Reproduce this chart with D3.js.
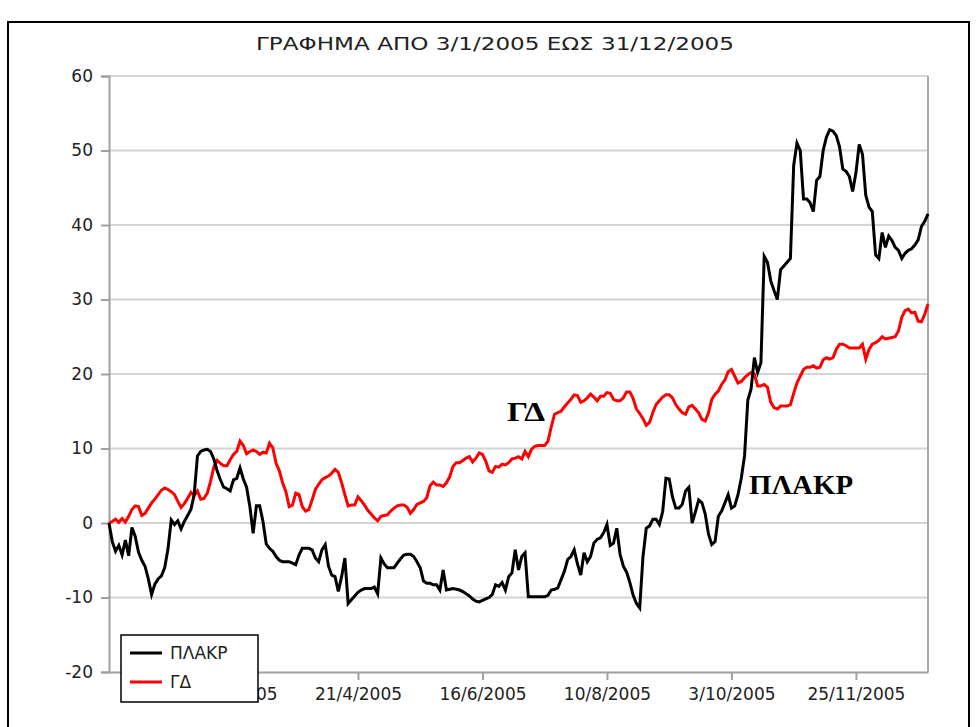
<!DOCTYPE html>
<html>
<head>
<meta charset="utf-8">
<script src="https://cdn.jsdelivr.net/npm/d3@7/dist/d3.min.js"></script>
<style>
  html, body { margin: 0; padding: 0; background: #fff; }
  svg { display: block; }
</style>
</head>
<body>
<script>
// ── data ─────────────────────────────────────────────────────────────────
var chartTitle = 'ΓΡΑΦΗΜΑ ΑΠΟ 3/1/2005 ΕΩΣ 31/12/2005';
var seriesNames = ['ΠΛΑΚΡ', 'ΓΔ'];

// one value per trading day, 3/1/2005 .. 30/12/2005
var plakr = [
   0.0, -2.5, -3.8, -3.0, -4.3, -2.3, -4.4, -0.6, -1.8, -3.9,
  -5.0, -5.8, -7.5, -9.6, -8.2, -7.5, -7.1, -6.0, -3.5,  0.4,
  -0.2,  0.3, -0.8,  0.2,  1.0,  1.8,  3.8,  9.0,  9.6,  9.8,
   9.9,  9.6,  8.6,  7.0,  5.8,  4.8,  4.6,  4.3,  5.8,  6.0,
   7.4,  5.9,  4.8,  2.2, -1.4,  2.3,  2.3,  0.2, -2.8, -3.4,
  -3.8, -4.5, -5.0, -5.2, -5.2, -5.2, -5.4, -5.6, -4.3, -3.4,
  -3.4, -3.4, -3.6, -4.7, -5.2, -3.6, -2.9, -5.8, -7.0, -7.2,
  -9.2, -7.2, -4.7,-10.8,-10.3, -9.8, -9.3, -9.0, -8.8, -8.8,
  -8.8, -8.6, -9.5, -4.7, -5.5, -6.0, -6.0, -6.0, -5.4, -4.8,
  -4.3, -4.2, -4.2, -4.5, -5.2, -6.0, -7.8, -8.1, -8.1, -8.3,
  -8.3, -9.0, -6.3, -9.0, -8.9, -8.8, -8.9, -9.0, -9.2, -9.5,
  -9.8,-10.2,-10.5,-10.6,-10.4,-10.2,-10.0, -9.6, -8.3, -8.5,
  -8.0, -9.0, -7.2, -6.7, -3.6, -6.3, -4.5, -4.0, -9.9, -9.9,
  -9.9, -9.9, -9.9, -9.9, -9.7, -9.0, -8.9, -8.7, -7.6, -6.5,
  -4.9, -4.5, -3.6, -5.5, -7.0, -4.0, -5.2, -4.5, -2.7, -2.2,
  -2.0, -1.3, -0.2, -3.0, -2.7, -0.7, -4.2, -5.8, -6.6, -8.0,
  -9.7,-10.8,-11.4, -4.5, -0.7, -0.4,  0.5,  0.5, -0.2,  1.5,
   6.0,  5.9,  3.5,  2.0,  2.0,  2.5,  4.3,  4.8,  0.0,  1.5,
   3.1,  2.7,  1.2, -1.5, -2.9, -2.5,  0.9,  1.6,  2.7,  3.8,
   2.0,  2.3,  3.8,  6.0,  9.0, 16.5, 18.0, 22.2, 20.2, 21.5,
  35.8, 35.0, 32.5, 31.2, 30.0, 34.0, 34.5, 35.0, 35.5, 48.0,
  51.0, 50.0, 43.5, 43.5, 43.0, 41.8, 46.0, 46.5, 50.0, 51.8,
  52.8, 52.6, 52.0, 50.5, 47.5, 47.2, 46.5, 44.5, 47.0, 50.8,
  49.5, 44.0, 42.4, 41.8, 36.0, 35.5, 39.0, 37.0, 38.5, 37.9,
  37.0, 36.6, 35.5, 36.2, 36.6, 36.8, 37.3, 38.0, 39.8, 40.5,
  41.5
];

var gd = [
   0.0,  0.2,  0.5,  0.1,  0.6,  0.1,  0.9,  1.8,  2.3,  2.2,
   1.0,  1.3,  2.0,  2.7,  3.2,  3.8,  4.4,  4.7,  4.5,  4.2,
   3.8,  2.9,  2.1,  2.6,  3.3,  4.1,  3.7,  4.3,  3.2,  3.3,
   4.0,  5.6,  7.5,  8.4,  8.0,  7.7,  7.7,  8.5,  9.2,  9.6,
  11.0, 10.4,  9.3,  9.6,  9.8,  9.6,  9.2,  9.5,  9.4, 10.7,
  10.1,  8.0,  7.0,  5.4,  4.2,  2.2,  2.4,  4.0,  3.8,  2.2,
   1.6,  1.8,  3.1,  4.5,  5.2,  5.8,  6.1,  6.3,  6.7,  7.2,
   6.8,  5.4,  3.8,  2.3,  2.4,  2.4,  3.5,  3.0,  2.4,  1.7,
   1.2,  0.7,  0.3,  0.9,  1.0,  1.1,  1.6,  2.0,  2.3,  2.4,
   2.4,  2.1,  1.3,  1.8,  2.5,  2.7,  2.9,  3.4,  5.0,  5.5,
   5.1,  5.1,  4.9,  5.4,  6.2,  7.6,  8.1,  8.1,  8.4,  8.7,
   8.9,  8.2,  8.7,  9.4,  9.2,  8.3,  7.0,  6.8,  7.6,  7.5,
   7.9,  7.8,  8.1,  8.6,  8.7,  8.9,  8.6,  9.6,  8.9,  9.9,
  10.3, 10.4, 10.4, 10.4, 11.0, 12.9, 14.6, 14.8, 15.0, 15.6,
  16.1, 16.6, 17.2, 17.1, 16.2, 16.4, 16.8, 17.3, 16.9, 16.4,
  17.0, 17.0, 17.5, 17.4, 16.6, 16.4, 16.4, 16.8, 17.6, 17.6,
  16.7, 15.3, 14.7, 14.0, 13.1, 13.5, 14.8, 15.9, 16.4, 16.9,
  17.2, 17.2, 16.8, 15.9, 15.3, 14.8, 14.6, 15.6, 15.8, 15.3,
  14.8, 13.9, 13.7, 14.8, 16.6, 17.3, 17.7, 18.6, 19.2, 20.3,
  20.6, 19.7, 18.8, 19.0, 19.5, 19.9, 20.2, 20.0, 18.4, 18.4,
  18.6, 18.2, 16.2, 15.5, 15.3, 15.7, 15.7, 15.7, 15.9, 17.4,
  18.8, 19.7, 20.6, 20.9, 20.9, 21.1, 20.8, 20.9, 21.9, 22.2,
  22.0, 22.2, 23.3, 24.0, 24.0, 23.8, 23.5, 23.5, 23.5, 23.5,
  24.0, 22.0, 23.3, 24.0, 24.2, 24.5, 25.0, 24.7, 24.8, 24.9,
  25.0, 25.8, 27.6, 28.5, 28.7, 28.2, 28.3, 27.1, 27.0, 28.0,
  29.4
];

var xTickIndex  = [38, 76, 114, 152, 190, 228];
var xTickLabels = ['25/2/2005', '21/4/2005', '16/6/2005', '10/8/2005', '3/10/2005', '25/11/2005'];
var yTicks      = [-20, -10, 0, 10, 20, 30, 40, 50, 60];

// ── geometry ─────────────────────────────────────────────────────────────
var W = 977, H = 727;
var plot = { left: 109, right: 928, top: 76, bottom: 672 };
var sans = '"DejaVu Sans", Verdana, sans-serif';
var serif = '"Liberation Serif", "Times New Roman", serif';

var x = d3.scaleLinear().domain([0, plakr.length - 1]).range([plot.left, plot.right]);
var y = d3.scaleLinear().domain([-20, 60]).range([plot.bottom, plot.top]);

var svg = d3.select('body').append('svg')
    .attr('width', W).attr('height', H)
    .attr('viewBox', '0 0 ' + W + ' ' + H);

svg.append('rect').attr('width', W).attr('height', H).attr('fill', '#fff');

// outer chart border (bottom edge falls outside the picture)
svg.append('rect')
    .attr('x', 8).attr('y', 22)
    .attr('width', 961).attr('height', 720)
    .attr('fill', 'none').attr('stroke', '#000').attr('stroke-width', 2);

// title
svg.append('text')
    .attr('x', 495).attr('y', 50)
    .attr('text-anchor', 'middle')
    .attr('font-family', sans).attr('font-size', '18px')
    .attr('textLength', 478).attr('lengthAdjust', 'spacingAndGlyphs')
    .attr('fill', '#222')
    .text(chartTitle);

// ── gridlines ────────────────────────────────────────────────────────────
svg.append('g').selectAll('line')
    .data(yTicks.filter(function (d) { return d > -20; }))
    .join('line')
    .attr('x1', plot.left).attr('x2', plot.right)
    .attr('y1', function (d) { return y(d); })
    .attr('y2', function (d) { return y(d); })
    .attr('stroke', '#d4d4d4').attr('stroke-width', 2);

// right edge of plot area
svg.append('line')
    .attr('x1', plot.right).attr('x2', plot.right)
    .attr('y1', plot.top).attr('y2', plot.bottom)
    .attr('stroke', '#a8a8a8').attr('stroke-width', 2);

// ── axes ─────────────────────────────────────────────────────────────────
var yAxis = svg.append('g')
    .attr('transform', 'translate(' + plot.left + ',0)')
    .call(d3.axisLeft(y).tickValues(yTicks)
        .tickFormat(function (d) { return String(d); })   // plain hyphen minus
        .tickSize(8).tickPadding(8));
yAxis.selectAll('path, line').attr('stroke', '#a0a0a0').attr('stroke-width', 2);
yAxis.selectAll('text')
    .attr('font-family', sans).attr('font-size', '17px').attr('fill', '#222');

var xAxis = svg.append('g')
    .attr('transform', 'translate(0,' + plot.bottom + ')')
    .call(d3.axisBottom(x).tickValues(xTickIndex)
        .tickFormat(function (d, i) { return xTickLabels[i]; })
        .tickSize(8).tickPadding(8).tickSizeOuter(0));
xAxis.selectAll('path, line').attr('stroke', '#a0a0a0').attr('stroke-width', 2);
xAxis.selectAll('text')
    .attr('font-family', sans).attr('font-size', '17px').attr('fill', '#222');

// ── series ───────────────────────────────────────────────────────────────
var line = d3.line()
    .x(function (d, i) { return x(i); })
    .y(function (d) { return y(d); });

svg.append('path').datum(gd)
    .attr('d', line).attr('fill', 'none')
    .attr('stroke', '#ff0000').attr('stroke-width', 3)
    .attr('stroke-linejoin', 'miter');

svg.append('path').datum(plakr)
    .attr('d', line).attr('fill', 'none')
    .attr('stroke', '#000').attr('stroke-width', 3)
    .attr('stroke-linejoin', 'miter');

// ── in-plot annotations ─────────────────────────────────────────────────
svg.append('text')
    .attr('x', 507).attr('y', 421)
    .attr('font-family', serif).attr('font-weight', 'bold').attr('font-size', '28px')
    .attr('textLength', 38).attr('lengthAdjust', 'spacingAndGlyphs')
    .attr('fill', '#000')
    .text(seriesNames[1]);

svg.append('text')
    .attr('x', 749).attr('y', 494)
    .attr('font-family', serif).attr('font-weight', 'bold').attr('font-size', '28px')
    .attr('textLength', 104).attr('lengthAdjust', 'spacingAndGlyphs')
    .attr('fill', '#000')
    .text(seriesNames[0]);

// ── legend ───────────────────────────────────────────────────────────────
var legend = svg.append('g').attr('transform', 'translate(121,635)');
legend.append('rect')
    .attr('width', 137).attr('height', 67)
    .attr('fill', '#fff').attr('stroke', '#000').attr('stroke-width', 1.5);

var legendColors = ['#000', '#ff0000'];
seriesNames.forEach(function (name, i) {
    var ly = 18 + i * 29;
    legend.append('line')
        .attr('x1', 9).attr('x2', 41).attr('y1', ly).attr('y2', ly)
        .attr('stroke', legendColors[i]).attr('stroke-width', 3);
    legend.append('text')
        .attr('x', 49).attr('y', ly + 6)
        .attr('font-family', sans).attr('font-size', '17px').attr('fill', '#222')
        .text(name);
});
</script>
</body>
</html>
